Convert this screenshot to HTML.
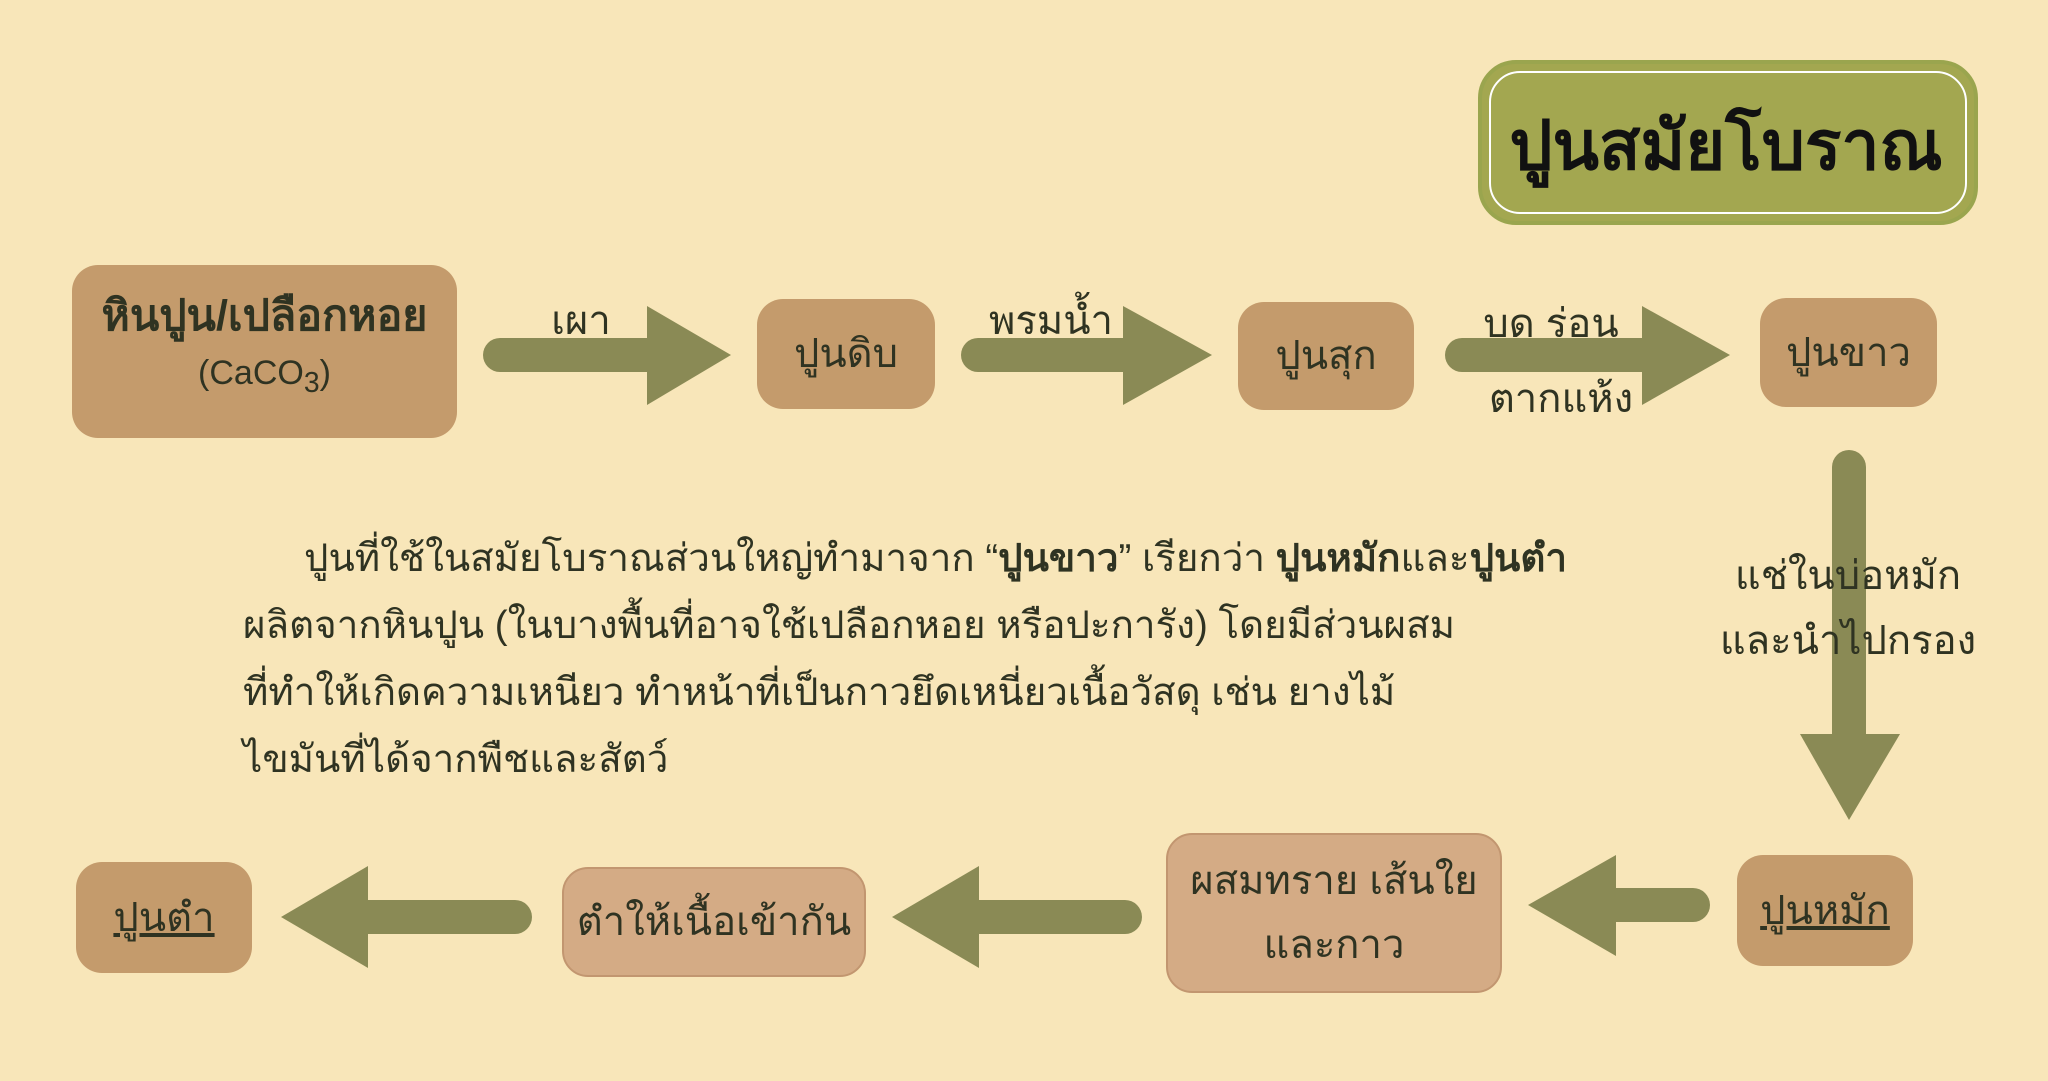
<!DOCTYPE html>
<html><head><meta charset="utf-8"><style>
body{margin:0;width:2048px;height:1081px;background:#f8e6b9;position:relative;overflow:hidden;font-family:"Liberation Sans","DejaVu Sans",sans-serif;color:#2f3322}
.b{position:absolute;background:#c49b6c;border-radius:26px;display:flex;align-items:center;justify-content:center;text-align:center;font-size:40px;line-height:1.25}
.l{background:#d4ab85;border:2px solid #c29670;box-sizing:border-box}
.t{position:absolute;font-size:40px;transform:translate(-50%,-50%);white-space:nowrap}
svg{position:absolute;left:0;top:0}
.p{position:absolute;left:243px;top:525px;font-size:38.5px;line-height:67px;white-space:nowrap}
</style></head><body>
<svg width="2048" height="1081">
<g fill="#8a8a55" stroke="#8a8a55">
<line x1="500" y1="355" x2="650" y2="355" stroke-width="34" stroke-linecap="round"/><polygon points="647,306 731,355 647,405" stroke="none"/>
<line x1="978" y1="355" x2="1126" y2="355" stroke-width="34" stroke-linecap="round"/><polygon points="1123,306 1212,355 1123,405" stroke="none"/>
<line x1="1462" y1="355" x2="1645" y2="355" stroke-width="34" stroke-linecap="round"/><polygon points="1642,306 1730,355 1642,405" stroke="none"/>
<line x1="1849" y1="467" x2="1849" y2="737" stroke-width="34" stroke-linecap="round"/><polygon points="1800,734 1900,734 1849,820" stroke="none"/>
<line x1="1693" y1="905" x2="1613" y2="905" stroke-width="34" stroke-linecap="round"/><polygon points="1616,855 1528,905 1616,956" stroke="none"/>
<line x1="1125" y1="917" x2="976" y2="917" stroke-width="34" stroke-linecap="round"/><polygon points="979,866 892,917 979,968" stroke="none"/>
<line x1="515" y1="917" x2="365" y2="917" stroke-width="34" stroke-linecap="round"/><polygon points="368,866 281,917 368,968" stroke="none"/>
</g>
<rect x="1480" y="62" width="496" height="161" rx="36" fill="#a3a750" stroke="#9aa54e" stroke-width="4"/>
<rect x="1490" y="72" width="476" height="141" rx="30" fill="none" stroke="#fff" stroke-width="2"/>
</svg>
<div class="t" style="left:1726px;top:145px;font-size:68px;font-weight:bold;color:#111">ปูนสมัยโบราณ</div>
<div class="b" style="left:72px;top:265px;width:385px;height:173px"><div><b style="font-size:43px">หินปูน/เปลือกหอย</b><br><span style="font-size:34px;line-height:60px">(CaCO<sub>3</sub>)</span></div></div>
<div class="b" style="left:757px;top:299px;width:178px;height:110px">ปูนดิบ</div>
<div class="b" style="left:1238px;top:302px;width:176px;height:108px">ปูนสุก</div>
<div class="b" style="left:1760px;top:298px;width:177px;height:109px">ปูนขาว</div>
<div class="b" style="left:1737px;top:855px;width:176px;height:111px"><u>ปูนหมัก</u></div>
<div class="b l" style="left:1166px;top:833px;width:336px;height:160px;line-height:1.6">ผสมทราย เส้นใย<br>และกาว</div>
<div class="b l" style="left:562px;top:867px;width:304px;height:110px">ตำให้เนื้อเข้ากัน</div>
<div class="b" style="left:76px;top:862px;width:176px;height:111px"><u>ปูนตำ</u></div>
<div class="t" style="left:581px;top:320px">เผา</div>
<div class="t" style="left:1051px;top:320px">พรมน้ำ</div>
<div class="t" style="left:1551px;top:323px">บด ร่อน</div>
<div class="t" style="left:1561px;top:398px">ตากแห้ง</div>
<div class="t" style="left:1848px;top:575px">แช่ในบ่อหมัก</div>
<div class="t" style="left:1848px;top:640px">และนำไปกรอง</div>
<div class="p"><span style="padding-left:61px"></span>ปูนที่ใช้ในสมัยโบราณส่วนใหญ่ทำมาจาก “<b>ปูนขาว</b>” เรียกว่า <b>ปูนหมัก</b>และ<b>ปูนตำ</b><br>ผลิตจากหินปูน (ในบางพื้นที่อาจใช้เปลือกหอย หรือปะการัง) โดยมีส่วนผสม<br>ที่ทำให้เกิดความเหนียว ทำหน้าที่เป็นกาวยึดเหนี่ยวเนื้อวัสดุ เช่น ยางไม้<br>ไขมันที่ได้จากพืชและสัตว์</div>
</body></html>
